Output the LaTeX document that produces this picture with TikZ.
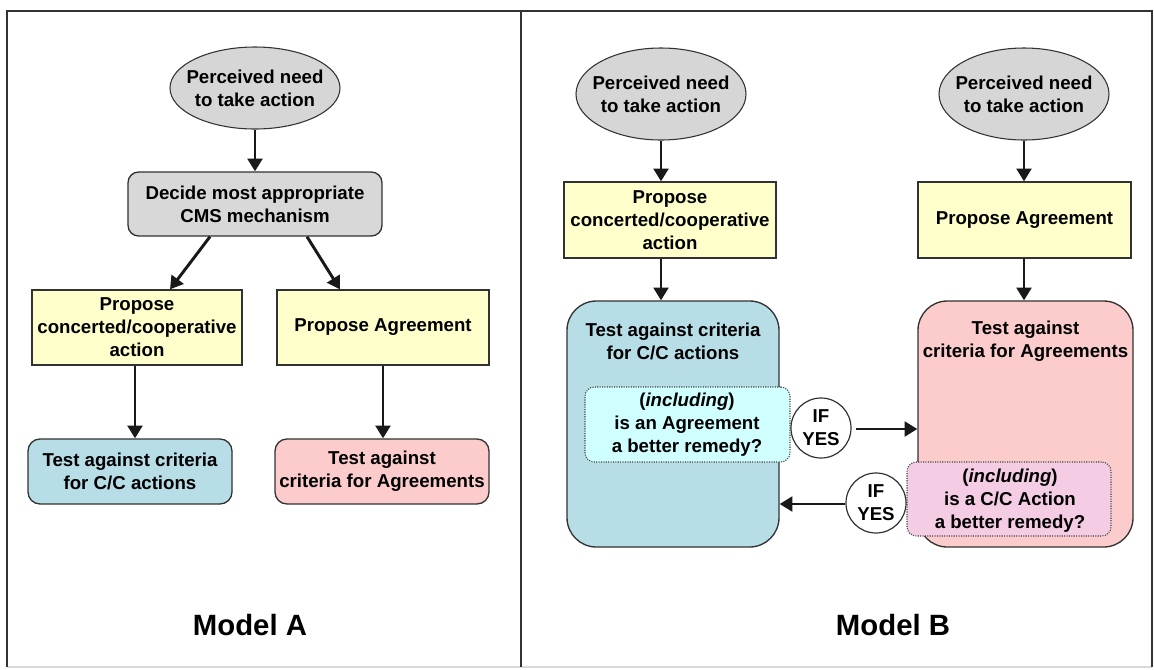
\documentclass[tikz,border=0pt]{standalone}
\usepackage{fontspec}
\setmainfont{Liberation Sans}
\usetikzlibrary{arrows.meta,shapes.geometric,calc}
\definecolor{ellgray}{RGB}{214,214,214}
\definecolor{decgray}{RGB}{216,216,216}
\definecolor{propyellow}{RGB}{255,255,204}
\definecolor{ccblue}{RGB}{183,221,230}
\definecolor{agpink}{RGB}{252,204,204}
\definecolor{inccyan}{RGB}{208,255,255}
\definecolor{incpink}{RGB}{244,204,228}
\definecolor{edge}{RGB}{50,50,50}
\begin{document}
\begin{tikzpicture}[x=0.75pt,y=-0.75pt,
  txt/.style={font=\fontsize{14}{17.25}\selectfont\bfseries, align=center, text=black, inner sep=0pt},
  bigtxt/.style={font=\fontsize{22}{26}\selectfont\bfseries, text=black, inner sep=0pt},
  ell/.style={ellipse, draw=edge, fill=ellgray, line width=0.8pt, inner sep=0pt},
  propbox/.style={rectangle, draw=edge, fill=propyellow, line width=1pt, inner sep=2pt},
  decbox/.style={rectangle, rounded corners=8pt, draw=edge, fill=decgray, line width=1pt, inner sep=2pt},
  testbox/.style={rectangle, rounded corners=9pt, draw=edge, line width=1pt, inner sep=2pt},
  bigbox/.style={rectangle, rounded corners=22pt, draw=edge, line width=1pt, inner sep=0pt},
  incbox/.style={rectangle, rounded corners=7pt, draw=black!75, densely dotted, line width=0.8pt, inner sep=0pt},
  ifcirc/.style={circle, draw=edge, fill=white, line width=0.9pt, inner sep=0pt, minimum size=45pt},
  arr/.style={-{Triangle[length=9.5pt,width=11pt]}, line width=2.2pt, black!90},
  frame/.style={line width=1.3pt, black!80}
]
\useasboundingbox (0,0) rectangle (1154,669);
\fill[white] (0,0) rectangle (1154,669);
% frames
\draw[gray!30, line width=0.8pt] (7,667) -- (1152,667);
\draw[frame] (7,667) -- (7,11) -- (1152,11) -- (1152,667);
\draw[frame] (521,11) -- (521,667);

% ---------- Model A ----------
\node[ell, minimum width=170*0.75pt, minimum height=82*0.75pt] (eA) at (255,88) {};
\node[txt] (eAt) at (eA) {Perceived need\\to take action};
\node[decbox, minimum width=254*0.75pt, minimum height=64*0.75pt, txt, inner sep=2pt] (decA) at (255,204) {Decide most appropriate\\CMS mechanism};
\node[propbox, minimum width=210*0.75pt, minimum height=75*0.75pt, txt, inner sep=2pt] (pcA) at (137,327.5) {Propose\\concerted/cooperative\\action};
\node[propbox, minimum width=212*0.75pt, minimum height=75*0.75pt, txt, inner sep=2pt] (paA) at (383,327.5) {Propose Agreement};
\node[testbox, fill=ccblue, minimum width=204*0.75pt, minimum height=65*0.75pt, txt, inner sep=2pt] (tcA) at (130,471.5) {Test against criteria\\for C/C actions};
\node[testbox, fill=agpink, minimum width=214*0.75pt, minimum height=65*0.75pt, txt, inner sep=2pt] (taA) at (382,471.5) {Test against\\criteria for Agreements};
\node[bigtxt] (mA) at (250,625) {Model A};

\draw[arr] (eA.south) -- (decA.north);
\draw[arr] ($(decA.south)+(-45,0)$) -- ($(pcA.north)+(33,0)$);
\draw[arr] ($(decA.south)+(52,0)$) -- ($(paA.north)+(-43,0)$);
\draw[arr] ($(pcA.south)+(-2,0)$) -- ($(pcA.south |- tcA.north)+(-2,0)$);
\draw[arr] (paA.south) -- (paA.south |- taA.north);

% ---------- Model B ----------
\node[ell, minimum width=170*0.75pt, minimum height=92*0.75pt] (eB1) at (661,94) {};
\node[txt] (eB1t) at (eB1) {Perceived need\\to take action};
\node[ell, minimum width=170*0.75pt, minimum height=92*0.75pt] (eB2) at (1024,94) {};
\node[txt] (eB2t) at (eB2) {Perceived need\\to take action};
\node[propbox, minimum width=212*0.75pt, minimum height=76*0.75pt, txt, inner sep=2pt] (pcB) at (670,220) {Propose\\concerted/cooperative\\action};
\node[propbox, minimum width=213*0.75pt, minimum height=76*0.75pt, txt, inner sep=2pt] (paB) at (1024.5,220) {Propose Agreement};

\node[bigbox, fill=ccblue, minimum width=212*0.75pt, minimum height=246*0.75pt] (tcB) at (673,424) {};
\node[txt] (tcBt) at (673,341) {Test against criteria\\for C/C actions};
\node[bigbox, fill=agpink, minimum width=215*0.75pt, minimum height=246*0.75pt] (taB) at (1025.5,424) {};
\node[txt] (taBt) at (1025.5,341) {Test against\\criteria for Agreements};

\node[incbox, fill=inccyan, minimum width=205*0.75pt, minimum height=75*0.75pt] (incB1) at (687.5,424.5) {};
\node[txt] (incB1t) at (687,425) {(\textit{including})\\is an Agreement\\a better remedy?};
\node[incbox, fill=incpink, minimum width=204*0.75pt, minimum height=74*0.75pt] (incB2) at (1009,499) {};
\node[txt] (incB2t) at (1010,501) {(\textit{including})\\is a C/C Action\\a better remedy?};

\node[ifcirc, txt, draw=edge, fill=white, minimum size=60*0.75pt] (ifB1) at (821,428) {IF\\YES};
\node[ifcirc, txt, draw=edge, fill=white, minimum size=60*0.75pt] (ifB2) at (876,503) {IF\\YES};

\draw[arr] (eB1.south) -- (eB1.south |- pcB.north);
\draw[arr] (eB1.south |- pcB.south) -- (eB1.south |- tcB.north);
\draw[arr] (eB2.south) -- (eB2.south |- paB.north);
\draw[arr] (eB2.south |- paB.south) -- (eB2.south |- taB.north);
\draw[arr] ($(ifB1.east)+(4,1)$) -- ($(ifB1.east -| taB.west)+(0,1)$);
\draw[arr] ($(ifB2.west)+(0,1)$) -- ($(ifB2.west -| tcB.east)+(0,1)$);

\node[bigtxt] (mB) at (893,625) {Model B};
\end{tikzpicture}
\end{document}
